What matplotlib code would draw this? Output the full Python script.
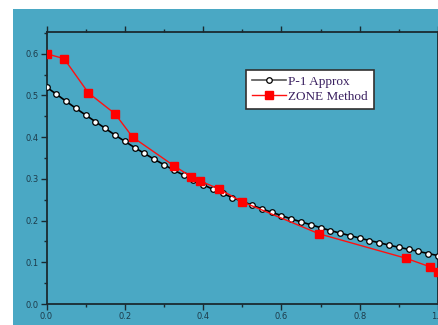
import matplotlib
matplotlib.use('Agg')
import matplotlib.pyplot as plt
from matplotlib.patches import Rectangle
from matplotlib.ticker import MultipleLocator

# P-1 approximation (dense curve with open circles)
p1_x = [i * 0.025 for i in range(41)]
p1_y = [0.520, 0.503, 0.486, 0.469, 0.453, 0.437, 0.421, 0.405, 0.390, 0.375,
        0.361, 0.347, 0.334, 0.321, 0.309, 0.297, 0.286, 0.275, 0.265, 0.255,
        0.246, 0.237, 0.228, 0.220, 0.212, 0.204, 0.197, 0.190, 0.183, 0.176,
        0.170, 0.164, 0.158, 0.152, 0.147, 0.141, 0.136, 0.131, 0.126, 0.121,
        0.116]

# ZONE method (red squares)
zone_x = [0.0, 0.045, 0.107, 0.175, 0.220, 0.326, 0.370, 0.392, 0.440, 0.500,
          0.697, 0.917, 0.980, 1.0]
zone_y = [0.600, 0.588, 0.506, 0.456, 0.400, 0.331, 0.305, 0.295, 0.276, 0.245,
          0.168, 0.110, 0.089, 0.077]

bg = '#4aa8c4'
tick_col = '#1d3b4a'

fig = plt.figure(figsize=(4.38, 3.25), dpi=100)
fig.patch.set_facecolor('white')
fig.patches.append(Rectangle((13/438, 0), 1 - 13/438, 1 - 9/325,
                             transform=fig.transFigure, facecolor=bg,
                             edgecolor='none', zorder=-10))

ax = fig.add_axes([46.5/438, 1 - 304/325, 1 - 46.5/438, (304 - 32)/325])
ax.set_facecolor(bg)

ax.plot(p1_x, p1_y, color='black', linewidth=1.2, marker='o', markersize=4.0,
        markerfacecolor='white', markeredgecolor='black', markeredgewidth=0.9,
        label='P-1 Approx', zorder=3)
ax.plot(zone_x, zone_y, color='#ff1010', linewidth=1.0, marker='s', markersize=5.5,
        markerfacecolor='#ff0000', markeredgecolor='#ff0000',
        label='ZONE Method', zorder=4)

ax.set_xlim(0, 1.0)
ax.set_ylim(0, 0.652)
ax.xaxis.set_major_locator(MultipleLocator(0.2))
ax.xaxis.set_minor_locator(MultipleLocator(0.1))
ax.yaxis.set_major_locator(MultipleLocator(0.1))
ax.yaxis.set_minor_locator(MultipleLocator(0.05))
ax.xaxis.set_major_formatter(plt.FuncFormatter(lambda v, p: '%.1f' % v))
ax.yaxis.set_major_formatter(plt.FuncFormatter(lambda v, p: '%.1f' % v))

ax.tick_params(which='both', direction='out', top=True, right=False,
               colors='#1a2a30', labelcolor=tick_col, labelsize=6, width=1.0)
ax.tick_params(which='major', length=4, pad=1.5)
ax.tick_params(which='minor', length=2.5)
for s in ['left', 'bottom', 'top', 'right']:
    ax.spines[s].set_color('#1a2a30')
    ax.spines[s].set_linewidth(1.3)

lgd = ax.legend(loc='upper left', bbox_to_anchor=(0.51, 0.862), frameon=True,
                fancybox=False, edgecolor='#303030', facecolor='white',
                framealpha=1, prop={'family': 'Liberation Serif', 'size': 9.5},
                handlelength=2.6, handletextpad=0.15, borderpad=0.45,
                labelspacing=0.2, borderaxespad=0)
lgd.get_frame().set_linewidth(1.2)
lgd.get_lines()[0].set_color('#555555')
for t in lgd.get_texts():
    t.set_color('#3a2060')

fig.savefig('out.png', dpi=100)
